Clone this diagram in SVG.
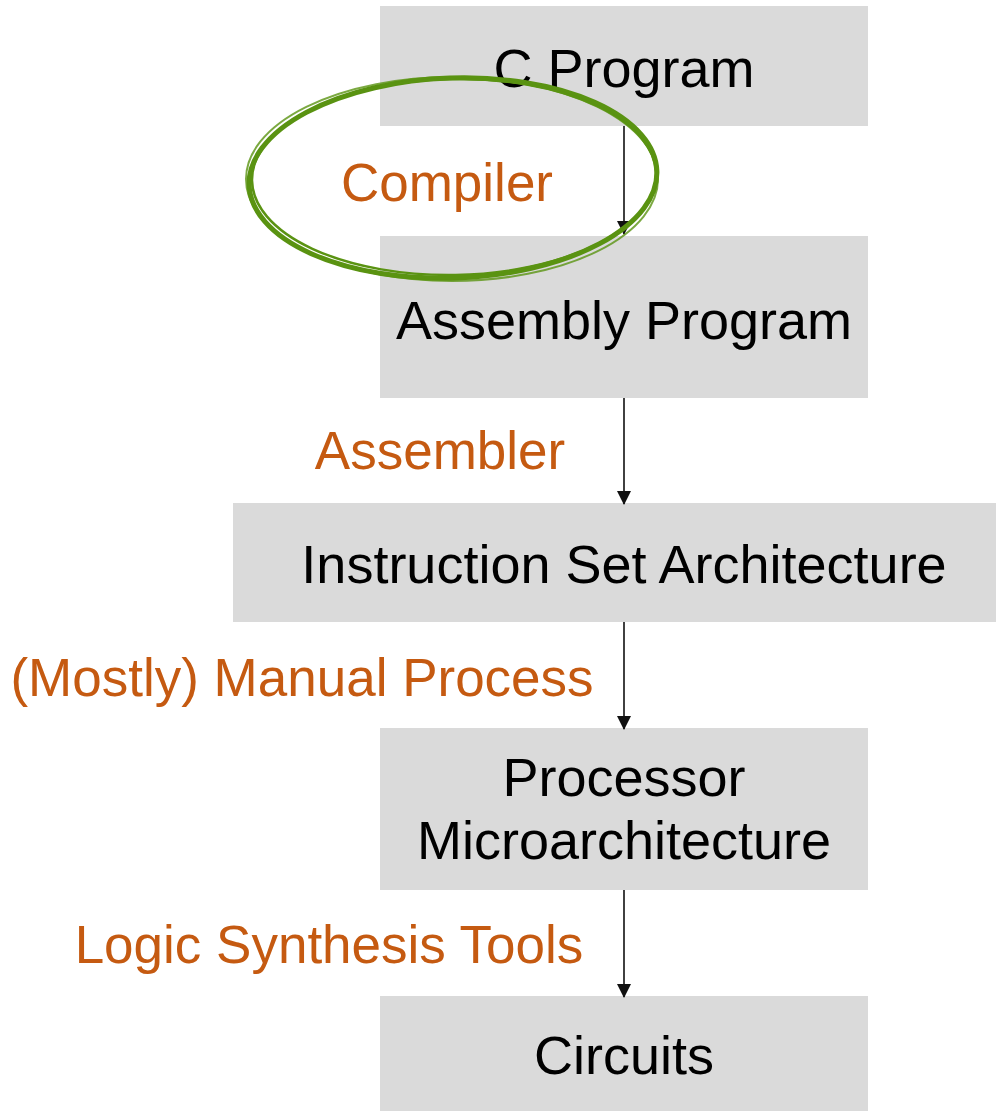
<svg xmlns="http://www.w3.org/2000/svg" width="996" height="1111" viewBox="0 0 996 1111">
<style>
.box{fill:#dadada}
.t{font-family:"Liberation Sans",Arial,sans-serif;font-size:54px;fill:#000;text-anchor:middle}
.l{font-family:"Liberation Sans",Arial,sans-serif;font-size:53px;fill:#c55a11;text-anchor:middle}
.c{stroke:#111;stroke-width:1.6;fill:none}
.g{fill:none;stroke:#5a9312}
</style>
<defs>
<marker id="ah" markerWidth="16" markerHeight="16" refX="13" refY="7" orient="auto" markerUnits="userSpaceOnUse">
<path d="M0,0 L14,7 L0,14 Z" fill="#111"/>
</marker>
</defs>
<rect width="996" height="1111" fill="#fff"/>
<g id="n1"><rect class="box" x="380" y="6" width="488" height="120"/><text class="t" x="624" y="87">C Program</text></g>
<g id="n2"><rect class="box" x="380" y="236" width="488" height="162"/><text class="t" x="624" y="339">Assembly Program</text></g>
<g id="n3"><rect class="box" x="233" y="503" width="763" height="119"/><text class="t" x="624" y="583">Instruction Set Architecture</text></g>
<g id="n4"><rect class="box" x="380" y="728" width="488" height="162"/><text class="t" x="624" y="796">Processor</text><text class="t" x="624" y="859">Microarchitecture</text></g>
<g id="n5"><rect class="box" x="380" y="996" width="488" height="115"/><text class="t" x="624" y="1074">Circuits</text></g>
<g id="connectors">
<line class="c" x1="624" y1="126" x2="624" y2="234" marker-end="url(#ah)"/>
<line class="c" x1="624" y1="398" x2="624" y2="504" marker-end="url(#ah)"/>
<line class="c" x1="624" y1="622" x2="624" y2="729" marker-end="url(#ah)"/>
<line class="c" x1="624" y1="890" x2="624" y2="997" marker-end="url(#ah)"/>
</g>
<g id="labels">
<text class="l" x="447" y="201">Compiler</text>
<text class="l" x="440" y="469">Assembler</text>
<text class="l" x="302" y="696">(Mostly) Manual Process</text>
<text class="l" x="329" y="963">Logic Synthesis Tools</text>
</g>
<g id="highlight">
<ellipse class="g" cx="453" cy="178" rx="204" ry="100" stroke-width="5" transform="rotate(-2 453 178)"/>
<ellipse class="g" cx="454" cy="177" rx="202" ry="98" stroke-width="2.5" transform="rotate(-1 453 178)"/>
<ellipse class="g" cx="452" cy="179" rx="206" ry="102" stroke-width="2" opacity="0.8"/>
</g>
</svg>
